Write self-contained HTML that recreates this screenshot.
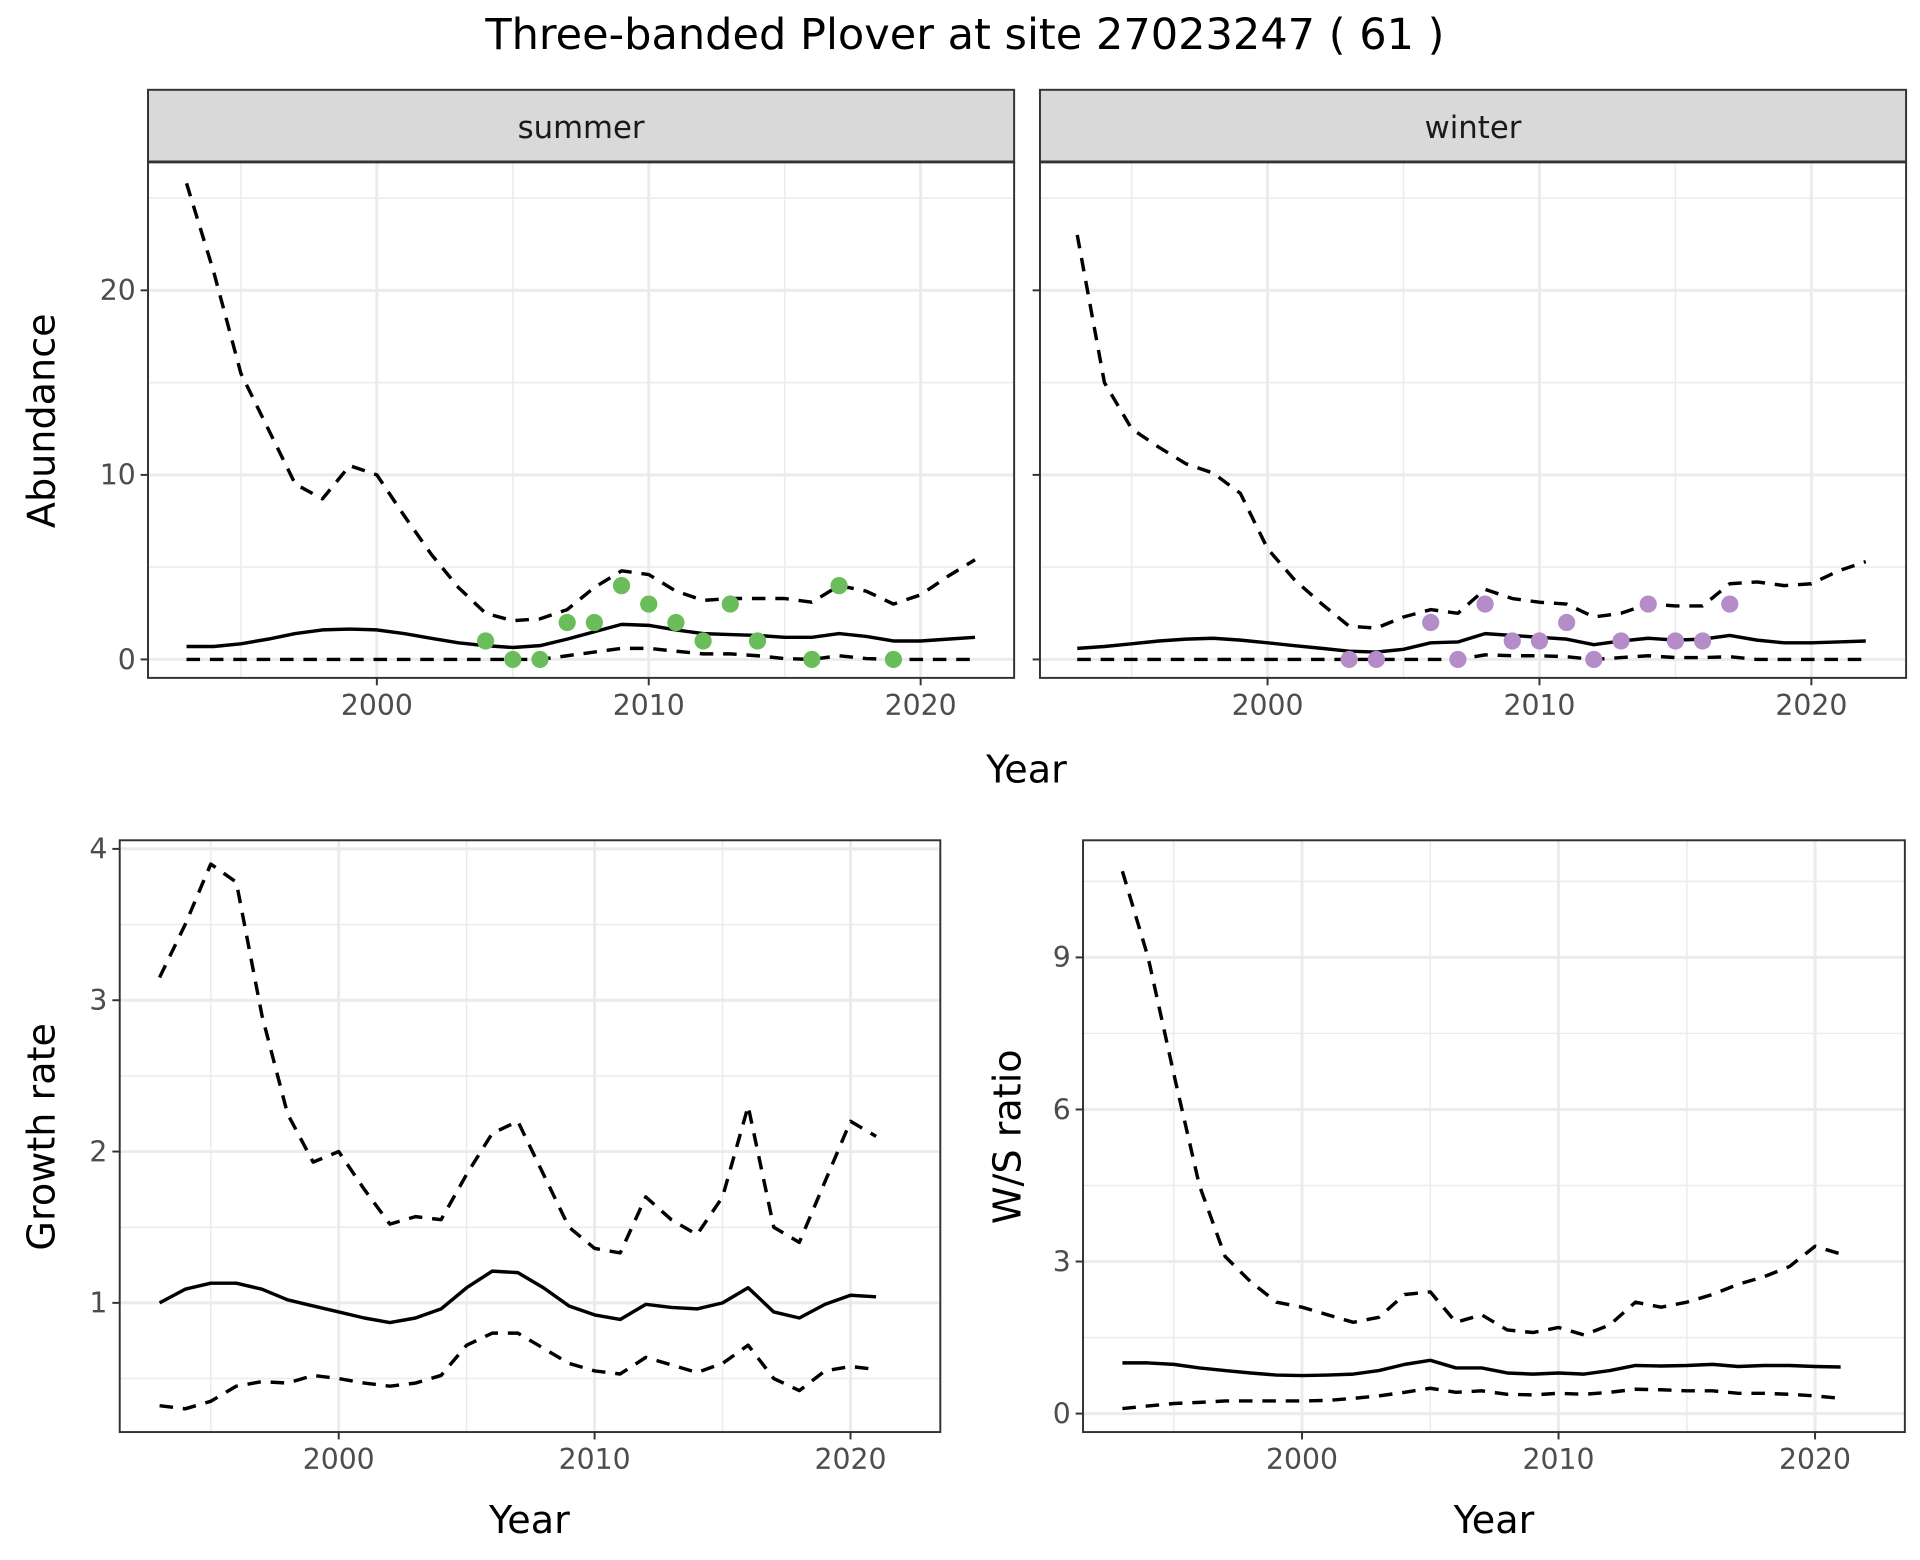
<!DOCTYPE html>
<html><head><meta charset="utf-8"><style>html,body{margin:0;padding:0;background:#fff}svg{display:block}text{font-family:"DejaVu Sans","Liberation Sans",sans-serif}</style></head>
<body>
<svg id="s" width="1920" height="1560" viewBox="0 0 1560 1268" xmlns="http://www.w3.org/2000/svg">
<text x="784" y="40" font-size="35" text-anchor="middle" fill="#000">Three-banded Plover at site 27023247 ( 61 )</text>
</svg>
<script>
const S=document.getElementById('s');let h='';
function line(pts,dash,w){return '<polyline fill="none" stroke="#000" stroke-width="'+(w||2.8)+'" stroke-linejoin="round" '+(dash?'stroke-dasharray="11,8" ':'')+'points="'+pts.map(p=>p[0].toFixed(1)+','+p[1].toFixed(1)).join(' ')+'"/>';}
function panel(o){
 const X=y=>o.x0+(y-2000)*o.px, Y=v=>o.y0-v*o.py;
 let s='<rect x="'+o.l+'" y="'+o.t+'" width="'+(o.r-o.l)+'" height="'+(o.b-o.t)+'" fill="#fff"/>';
 o.mx.forEach(v=>{s+='<line x1="'+X(v)+'" x2="'+X(v)+'" y1="'+o.t+'" y2="'+o.b+'" stroke="#ebebeb" stroke-width="1.2"/>';});
 o.my.forEach(v=>{s+='<line y1="'+Y(v)+'" y2="'+Y(v)+'" x1="'+o.l+'" x2="'+o.r+'" stroke="#ebebeb" stroke-width="1.2"/>';});
 [2000,2010,2020].forEach(v=>{s+='<line x1="'+X(v)+'" x2="'+X(v)+'" y1="'+o.t+'" y2="'+o.b+'" stroke="#ebebeb" stroke-width="2.4"/>';});
 o.yt.forEach(v=>{s+='<line y1="'+Y(v)+'" y2="'+Y(v)+'" x1="'+o.l+'" x2="'+o.r+'" stroke="#ebebeb" stroke-width="2.4"/>';});
 const yrs=o.up.map((_,i)=>1993+i);
 s+=line(yrs.map((y,i)=>[X(y),Y(o.up[i])]),1);
 s+=line(yrs.map((y,i)=>[X(y),Y(o.lo[i])]),1);
 s+=line(yrs.map((y,i)=>[X(y),Y(o.m[i])]),0);
 if(o.pts)o.pts.forEach(p=>{s+='<circle cx="'+X(p[0])+'" cy="'+Y(p[1])+'" r="7" fill="'+o.col+'"/>';});
 s+='<rect x="'+o.l+'" y="'+o.t+'" width="'+(o.r-o.l)+'" height="'+(o.b-o.t)+'" fill="none" stroke="#333" stroke-width="1.6"/>';
 [2000,2010,2020].forEach(v=>{s+='<line x1="'+X(v)+'" x2="'+X(v)+'" y1="'+o.b+'" y2="'+(o.b+6)+'" stroke="#333" stroke-width="1.6"/><text x="'+X(v)+'" y="'+(o.b+30)+'" font-size="23" fill="#4d4d4d" text-anchor="middle">'+v+'</text>';});
 if(o.ylab!==false)o.yt.forEach(v=>{s+='<line x1="'+(o.l-6)+'" x2="'+o.l+'" y1="'+Y(v)+'" y2="'+Y(v)+'" stroke="#333" stroke-width="1.6"/><text x="'+(o.l-10)+'" y="'+(Y(v)+8)+'" font-size="23" fill="#4d4d4d" text-anchor="end">'+v+'</text>';});
 else o.yt.forEach(v=>{s+='<line x1="'+(o.l-6)+'" x2="'+o.l+'" y1="'+Y(v)+'" y2="'+Y(v)+'" stroke="#333" stroke-width="1.6"/>';});
 return s;}
const z=n=>Array(n).fill(0);
h+='<rect x="120" y="73" width="704" height="59" fill="#d9d9d9" stroke="#333" stroke-width="1.6"/><line x1="120" x2="824" y1="132" y2="132" stroke="#333" stroke-width="3"/><text x="472" y="112" font-size="25" text-anchor="middle" fill="#1a1a1a">summer</text>';
h+='<rect x="845" y="73" width="704" height="59" fill="#d9d9d9" stroke="#333" stroke-width="1.6"/><line x1="845" x2="1549" y1="132" y2="132" stroke="#333" stroke-width="3"/><text x="1197" y="112" font-size="25" text-anchor="middle" fill="#1a1a1a">winter</text>';
h+=panel({l:120,r:824,t:132,b:551,x0:306,px:22.1,y0:536,py:15,mx:[1995,2005,2015],my:[5,15,25],yt:[0,10,20],
up:[25.8,21,15.5,12.5,9.5,8.7,10.5,10,7.8,5.7,3.9,2.5,2.1,2.2,2.7,3.9,4.8,4.6,3.7,3.2,3.3,3.3,3.3,3.1,4.0,3.7,3.0,3.5,4.5,5.4],
m:[0.7,0.7,0.85,1.1,1.4,1.6,1.65,1.6,1.4,1.15,0.9,0.75,0.65,0.75,1.1,1.5,1.9,1.85,1.6,1.4,1.35,1.3,1.2,1.2,1.4,1.25,1.0,1.0,1.1,1.2],
lo:z(14).concat([0.2,0.4,0.6,0.6,0.45,0.3,0.3,0.2,0.05,0,0.2,0.05,0,0,0,0]),
pts:[[2004,1],[2005,0],[2006,0],[2007,2],[2008,2],[2009,4],[2010,3],[2011,2],[2012,1],[2013,3],[2014,1],[2016,0],[2017,4],[2019,0]],col:'#6abd5a'});
h+=panel({l:845,r:1549,t:132,b:551,x0:1030,px:22.1,y0:536,py:15,mx:[1995,2005,2015],my:[5,15,25],yt:[0,10,20],ylab:false,
up:[23,15,12.5,11.5,10.6,10.1,9,6,4.3,3,1.8,1.7,2.3,2.7,2.5,3.8,3.3,3.1,3.0,2.3,2.5,3.0,2.9,2.9,4.1,4.2,4.0,4.1,4.8,5.3],
m:[0.6,0.7,0.85,1.0,1.1,1.15,1.05,0.9,0.75,0.6,0.45,0.4,0.55,0.9,0.95,1.4,1.3,1.2,1.1,0.8,1.0,1.15,1.05,1.1,1.3,1.05,0.9,0.9,0.95,1.0],
lo:z(15).concat([0.25,0.2,0.2,0.15,0,0.1,0.2,0.1,0.1,0.15,0,0,0,0,0]),
pts:[[2003,0],[2004,0],[2006,2],[2007,0],[2008,3],[2009,1],[2010,1],[2011,2],[2012,0],[2013,1],[2014,3],[2015,1],[2016,1],[2017,3]],col:'#b48cc8'});
h+='<text x="834" y="636" font-size="31" text-anchor="middle">Year</text>';
h+='<text transform="translate(44,342) rotate(-90)" font-size="31" text-anchor="middle">Abundance</text>';
h+=panel({l:97,r:764,t:683,b:1164,x0:275,px:20.8,y0:1182,py:123,mx:[1995,2005,2015],my:[0.5,1.5,2.5,3.5],yt:[1,2,3,4],
up:[3.15,3.5,3.9,3.78,2.9,2.25,1.93,2.0,1.75,1.52,1.57,1.55,1.85,2.12,2.2,1.85,1.5,1.36,1.33,1.7,1.55,1.45,1.7,2.3,1.5,1.4,1.8,2.2,2.1],
m:[1.0,1.09,1.13,1.13,1.09,1.02,0.98,0.94,0.9,0.87,0.9,0.96,1.1,1.21,1.2,1.1,0.98,0.92,0.89,0.99,0.97,0.96,1.0,1.1,0.94,0.9,0.99,1.05,1.04],
lo:[0.32,0.3,0.35,0.45,0.48,0.47,0.52,0.5,0.47,0.45,0.47,0.52,0.72,0.8,0.8,0.7,0.6,0.55,0.53,0.64,0.59,0.54,0.6,0.72,0.5,0.42,0.55,0.58,0.56]});
h+='<text x="430" y="1246" font-size="31" text-anchor="middle">Year</text>';
h+='<text transform="translate(44,924) rotate(-90)" font-size="31" text-anchor="middle">Growth rate</text>';
h+=panel({l:880,r:1548,t:683,b:1164,x0:1058,px:20.85,y0:1149,py:41.2,mx:[1995,2005,2015],my:[1.5,4.5,7.5,10.5],yt:[0,3,6,9],
up:[10.7,9,6.7,4.5,3.1,2.6,2.2,2.1,1.95,1.8,1.9,2.35,2.4,1.8,1.95,1.65,1.6,1.7,1.55,1.75,2.2,2.1,2.2,2.35,2.55,2.7,2.9,3.3,3.15],
m:[1.0,1.0,0.97,0.9,0.85,0.8,0.76,0.75,0.76,0.78,0.85,0.97,1.05,0.9,0.9,0.8,0.78,0.8,0.78,0.85,0.95,0.94,0.95,0.97,0.93,0.95,0.95,0.93,0.92],
lo:[0.1,0.15,0.2,0.22,0.25,0.25,0.25,0.25,0.26,0.3,0.35,0.42,0.5,0.42,0.45,0.38,0.37,0.4,0.38,0.42,0.48,0.47,0.45,0.45,0.4,0.4,0.38,0.35,0.3]});
h+='<text x="1214" y="1246" font-size="31" text-anchor="middle">Year</text>';
h+='<text transform="translate(829,924) rotate(-90)" font-size="31" text-anchor="middle">W/S ratio</text>';
S.insertAdjacentHTML('beforeend',h);
</script>
</body></html>
